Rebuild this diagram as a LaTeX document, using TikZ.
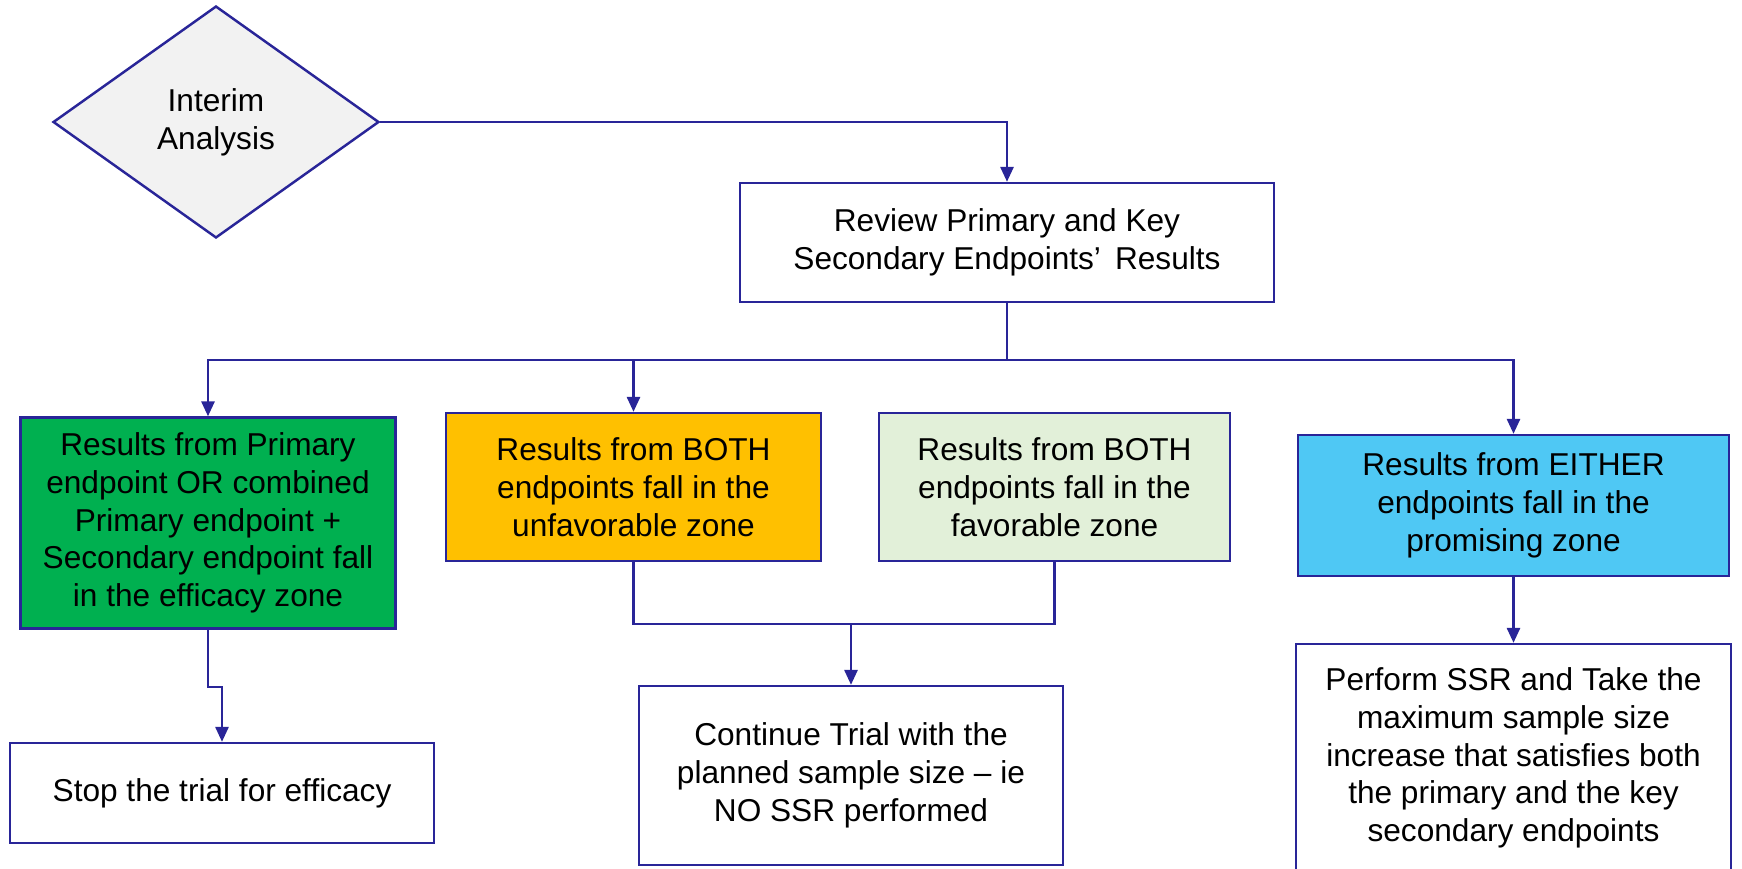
\documentclass[tikz,border=0pt]{standalone}
\usepackage{fontspec}
\setmainfont{Liberation Sans}
\usetikzlibrary{arrows.meta,shapes.geometric}

\definecolor{linecol}{RGB}{41,37,152}
\definecolor{effgreen}{RGB}{0,176,80}
\definecolor{unfavyellow}{RGB}{255,192,0}
\definecolor{favgreen}{RGB}{226,240,217}
\definecolor{promblue}{RGB}{79,200,244}
\definecolor{decgray}{RGB}{242,242,242}

\begin{document}
\begin{tikzpicture}[x=0.02cm,y=-0.02cm,>={Triangle[length=8.5pt,width=7.5pt]}]
	\tikzstyle{every node} = [draw=linecol,line width=1.4pt,align=center,font=\fontsize{18}{21.5}\selectfont];
	\tikzstyle{box} = [rectangle,inner sep=2pt];
	\tikzstyle{link} = [draw=linecol,line width=1.3pt];
	\useasboundingbox (0,0) rectangle (1742,869);
	\node[diamond,fill=decgray,minimum width=6.52cm,minimum height=4.64cm,inner sep=0pt] (ia) at (216,122) {Interim\\Analysis};
	\node[box,minimum width=10.68cm,minimum height=2.38cm] (review) at (1007,242.5) {Review Primary and Key\\Secondary Endpoints'\,\ Results};
	\node[box,fill=effgreen,minimum width=7.5cm,minimum height=4.22cm] (eff) at (208,523) {Results from Primary\\endpoint OR combined\\Primary endpoint +\\Secondary endpoint fall\\in the efficacy zone};
	\node[box,fill=unfavyellow,minimum width=7.5cm,minimum height=2.96cm] (unfav) at (633.5,487) {Results from BOTH\\endpoints fall in the\\unfavorable zone};
	\node[box,fill=favgreen,minimum width=7.02cm,minimum height=2.96cm] (fav) at (1054.5,487) {Results from BOTH\\endpoints fall in the\\favorable zone};
	\node[box,fill=promblue,minimum width=8.62cm,minimum height=2.82cm] (prom) at (1513.5,505.5) {Results from EITHER\\endpoints fall in the\\promising zone};
	\node[box,minimum width=8.48cm,minimum height=2.0cm] (stop) at (222,793) {Stop the trial for efficacy};
	\node[box,minimum width=8.48cm,minimum height=3.58cm] (cont) at (851,775.5) {Continue Trial with the\\planned sample size -- ie\\NO SSR performed};
	\node[box,minimum width=8.7cm,minimum height=4.56cm] (ssr) at (1513.5,758) {Perform SSR and Take the\\maximum sample size\\increase that satisfies both\\the primary and the key\\secondary endpoints};
	\coordinate (split) at (1007,360);
	\coordinate (join) at (851,624);
	\draw[link,->] (ia.east) -| (review.north);
	\draw[link] (review.south) -- (split);
	\draw[link,->] (split) -| (eff.north);
	\draw[link,->] (split) -| (unfav.north);
	\draw[link,->] (split) -| (prom.north);
	\draw[link,->] (eff.south) -- ++(0,57) -| (stop.north);
	\draw[link] (unfav.south) |- (join) -| (fav.south);
	\draw[link,->] (join) -- (cont.north);
	\draw[link,->] (prom.south) -- (ssr.north);
\end{tikzpicture}
\end{document}
